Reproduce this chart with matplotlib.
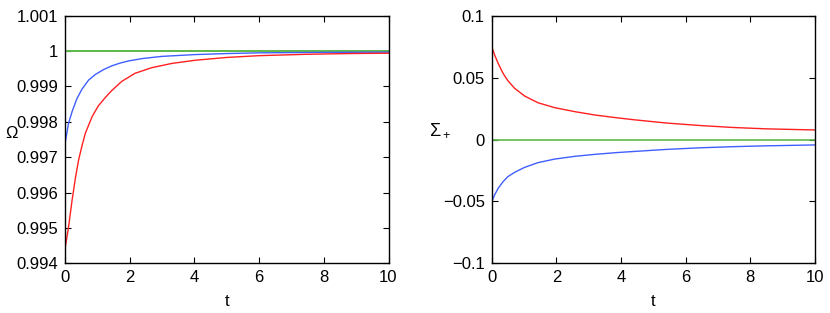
import numpy as np
import matplotlib
matplotlib.use('Agg')
import matplotlib.pyplot as plt

plt.rcParams['font.family'] = ['Liberation Sans', 'DejaVu Sans']
plt.rcParams['mathtext.fontset'] = 'custom'
plt.rcParams['mathtext.rm'] = 'Liberation Sans'
plt.rcParams['mathtext.it'] = 'Liberation Sans'

# Omega panel
t_om_blue = [0.0, 0.11, 0.22, 0.37, 0.53, 0.73, 0.94, 1.2, 1.44, 1.7, 1.96, 2.4, 3.0, 4.0, 5.0, 6.0,
             7.5, 10.0]
om_blue = [0.99738, 0.99796, 0.99829, 0.99866, 0.99893, 0.99918, 0.99934, 0.99948, 0.99958, 0.99966,
           0.99972, 0.99979, 0.99985, 0.99990, 0.99993, 0.99995, 0.99996, 0.99997]
t_om_red = [0.0, 0.11, 0.22, 0.32, 0.42, 0.53, 0.63, 0.84, 1.03, 1.24, 1.44, 1.75, 2.16, 2.68, 3.3,
            4.02, 5.0, 6.0, 7.5, 8.8, 10.0]
om_red = [0.99440, 0.99503, 0.99579, 0.99640, 0.99692, 0.99734, 0.99768, 0.99815, 0.99845, 0.99868,
          0.99888, 0.99914, 0.99937, 0.99953, 0.99965, 0.99974, 0.99982, 0.99987, 0.99991, 0.99993,
          0.99994]
t_om_green = [0.0, 10.0]
om_green = [1.0, 1.0]

# Sigma_+ panel
t_sg = [0.0, 0.09, 0.2, 0.35, 0.5, 0.71, 1.02, 1.43, 1.95, 2.57, 3.19, 3.85, 4.38, 5.41, 6.44, 7.47,
        8.5, 10.0]
sg_red = [0.075, 0.0683, 0.0615, 0.0535, 0.0475, 0.0413, 0.0351, 0.0297, 0.0257, 0.0225, 0.0198,
          0.0176, 0.0160, 0.0133, 0.0113, 0.0097, 0.0086, 0.0077]
sg_blue = [-0.0502, -0.0448, -0.0394, -0.0341, -0.0300, -0.0265, -0.0225, -0.0187, -0.0158, -0.0136,
           -0.0120, -0.0106, -0.0097, -0.0080, -0.0067, -0.0058, -0.0051, -0.0044]
t_sg_green = [0.0, 10.0]
sg_green = [0.0, 0.0]

x_ticks = [0, 2, 4, 6, 8, 10]
om_ticks = [0.994, 0.995, 0.996, 0.997, 0.998, 0.999, 1.0, 1.001]
om_labels = ['0.994', '0.995', '0.996', '0.997', '0.998', '0.999', '1', '1.001']
sg_ticks = [-0.1, -0.05, 0, 0.05, 0.1]
sg_labels = ['\u22120.1', '\u22120.05', '0', '0.05', '0.1']

RED = '#ff2020'
BLUE = '#3f5fff'
GREEN = '#5cb848'

fig = plt.figure(figsize=(8.3, 3.13), dpi=100)
ax1 = fig.add_axes([65 / 830, 49.7 / 313, 323.5 / 830, 247.6 / 313])
ax2 = fig.add_axes([491.7 / 830, 49.7 / 313, 323.3 / 830, 247.6 / 313])


def style(ax):
    ax.tick_params(direction='in', top=True, right=True, length=4, width=0.8, labelsize=12, pad=5)
    for s in ax.spines.values():
        s.set_linewidth(1.0)
    ax.set_xlim(0, 10)
    ax.set_xticks(x_ticks)
    ax.set_xlabel('t', fontsize=12, labelpad=6)


ax1.plot(t_om_green, om_green, color=GREEN, lw=1.4)
ax1.plot(t_om_blue, om_blue, color=BLUE, lw=1.0)
ax1.plot(t_om_red, om_red, color=RED, lw=1.0)
style(ax1)
ax1.set_ylim(0.994, 1.001)
ax1.set_yticks(om_ticks)
ax1.set_yticklabels(om_labels)
ax1.set_ylabel('\u03a9', fontsize=12, rotation=0, ha='center', va='center')
ax1.yaxis.set_label_coords(-0.165, 0.525)

ax2.plot(t_sg_green, sg_green, color=GREEN, lw=1.2)
ax2.plot(t_sg, sg_red, color=RED, lw=1.0)
ax2.plot(t_sg, sg_blue, color=BLUE, lw=1.0)
style(ax2)
ax2.set_ylim(-0.1, 0.1)
ax2.set_yticks(sg_ticks)
ax2.set_yticklabels(sg_labels)
ax2.set_ylabel(r'$\Sigma_+$', fontsize=13, rotation=0, ha='center', va='center')
ax2.yaxis.set_label_coords(-0.16, 0.54)

fig.savefig('out.png', dpi=100)
